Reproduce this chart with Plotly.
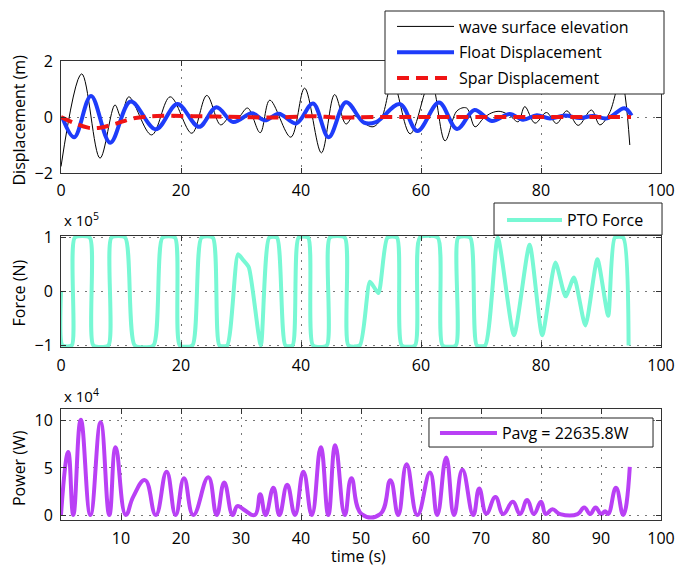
import plotly.graph_objects as go

# ---------------- data ----------------
# top panel: displacement (m) vs time (s)
wave_t = [0, 3.45, 6.5, 9.0, 10.0, 11.3, 15.1, 18.2, 21.8, 24.3, 26.6, 28.3, 29.4, 31.1, 33.2,
          34.8, 38.3, 40.6, 43.4, 45.6, 47.5, 48.8, 50.5, 52.0, 53.4, 55.3, 58.2, 61.6, 64.0,
          66.0, 67.6, 69.0, 70.4, 71.8, 73.2, 74.8, 76.2, 77.3, 79.0, 80.9, 82.6, 84.3, 86.2,
          88.4, 89.8, 91.4, 93.3, 94.8]
wave_y = [-1.77, 1.54, -1.47, 0.43, 0.0, 0.72, -0.64, 0.72, -0.58, 0.77, -0.28, 0.05, -0.05, 0.32, -0.56,
          0.6, -0.72, 1.03, -1.28, 0.8, -0.25, 0.05, -0.22, -0.35, -0.05, 1.25, -0.6, 1.3, -0.85,
          0.22, 0.32, -0.35, -0.05, 0.15, 0.2, 0.05, -0.17, 0.37, -0.22, 0.16, -0.23, 0.22, -0.3,
          0.25, -0.28, 0.14, 1.35, -1.0]

float_t = [0.2, 2.2, 5.0, 8.2, 11.6, 15.8, 19.4, 23.0, 25.9, 28.7, 31.8, 34.0, 36.3, 39.2, 42.0,
           44.6, 47.5, 50.5, 52.5, 56.5, 59.4, 63.0, 66.0, 68.9, 71.8, 74.8, 77.0, 79.3, 81.5,
           84.0, 86.5, 88.6, 91.0, 93.9, 95.1]
float_y = [0.0, -0.72, 0.75, -0.92, 0.55, -0.44, 0.46, -0.35, 0.35, -0.18, 0.13, -0.12, 0.12, -0.23, 0.48,
           -0.72, 0.53, -0.2, -0.18, 0.46, -0.5, 0.52, -0.43, 0.25, -0.14, 0.11, -0.1, 0.06, -0.05,
           0.05, -0.04, 0.04, -0.05, 0.31, 0.05]

spar_t = [0, 2.0, 4.5, 6.5, 9.0, 12.0, 16.0, 22.0, 30.0, 36.0, 42.0, 46.0, 52.0, 60.0, 70.0, 80.0, 90.0, 95.0]
spar_y = [0.0, -0.2, -0.38, -0.38, -0.25, -0.05, 0.04, 0.03, 0.0, -0.02, 0.03, -0.02, 0.0, 0.0, 0.0, 0.0, 0.0, 0.0]

# middle panel: PTO force (x 1e5 N)
force_t = [0, 0.25, 1.8, 2.3, 4.8, 5.4, 7.9, 8.4, 10.7, 12.3, 15.4, 16.9, 19.0, 19.8, 21.9, 23.4,
           25.3, 26.4, 27.7, 29.5, 30.4, 31.3, 33.3, 34.7, 36.0, 37.4, 38.6, 39.6, 41.2, 42.0,
           44.3, 44.8, 47.3, 47.9, 49.8, 51.5, 52.9, 54.4, 56.0, 56.8, 59.0, 59.8, 62.8, 63.6,
           65.8, 66.2, 68.2, 69.3, 70.7, 72.8, 75.5, 78.1, 80.2, 82.4, 84.1, 85.5, 87.4, 89.4,
           91.2, 92.3, 93.7, 94.6]
force_y = [0, -1, -1, 1, 1, -1, -1, 1, 1, -1, -1, 1, 1, -1, -1, 1,
           1, -1, -1, 0.69, 0.58, 0.45, -1, 1, 1, -1, -1, 1, 1, -1,
           -1, 1, 1, -1, -1, 0.18, -0.03, 1, 1, -1, -1, 1, 1, -1,
           -1, 1, 1, -1, -1, 1.0, -0.81, 0.87, -0.81, 0.54, -0.09, 0.26, -0.63, 0.6,
           -0.45, 1, 1, -1]

# bottom panel: power (x 1e4 W)
power_t = [0, 1.2, 2.05, 3.3, 4.9, 6.6, 8.05, 9.1, 10.8, 12.05, 14.0, 15.8, 17.6, 19.1, 20.5, 22.05,
           24.55, 25.95, 27.2, 28.6, 29.4, 30.4, 32.3, 33.2, 34.1, 35.4, 36.4, 37.7, 39.0, 40.4,
           41.8, 43.3, 44.55, 45.7, 47.3, 48.4, 50.1, 53.2, 54.9, 56.2, 57.6, 59.4, 61.5, 62.7,
           64.2, 65.5, 66.9, 68.7, 69.7, 70.9, 72.4, 73.7, 75.3, 76.5, 77.7, 78.8, 80.0, 80.8,
           81.9, 83.2, 86.1, 87.2, 88.2, 89.1, 90.0, 90.7, 91.2, 92.5, 93.7, 94.8]
power_y = [0, 6.7, 0, 10.1, 0, 9.85, 0, 7.2, 0, 1.95, 3.7, 0, 4.6, 0, 3.9, 0,
           4.0, 0, 3.45, 0, 0.95, 0.6, 0, 2.2, 0, 2.9, 0, 3.2, 0, 4.6,
           0, 7.2, 0, 7.4, 0, 3.9, 0.1, 0.1, 3.7, 0, 5.4, 0, 4.5, 0,
           6.1, 0, 4.8, 0, 2.8, 0.15, 1.9, 0.1, 1.4, 0.1, 1.6, 0.1, 1.4, 0.1,
           0.6, 0.1, 0.1, 0.8, 0.1, 0.8, 0.1, 0.4, 0.1, 2.9, 0, 5.1]

x_ticks_full = [0, 20, 40, 60, 80, 100]
x_ticks_power = [10, 20, 30, 40, 50, 60, 70, 80, 90, 100]
disp_ticks = [-2, 0, 2]
force_ticks = [-1, 0, 1]
power_ticks = [0, 5, 10]

# ---------------- styling ----------------
FONT = "Open Sans"
AX = "#333333"
axis_common = dict(showline=True, linecolor=AX, linewidth=1, mirror="ticks",
                   ticks="inside", ticklen=5, tickcolor=AX, tickwidth=1,
                   showgrid=True, gridcolor="#777777", griddash="2px,6px", gridwidth=1,
                   zeroline=False, tickfont=dict(family=FONT, size=16, color="black"))

fig = go.Figure()
fig.add_trace(go.Scatter(x=wave_t, y=wave_y, mode="lines", name="wave surface elevation",
                         line=dict(color="black", width=1, shape="spline", smoothing=1),
                         xaxis="x", yaxis="y", legend="legend", legendgroup="a"))
fig.add_trace(go.Scatter(x=float_t, y=float_y, mode="lines", name="Float Displacement",
                         line=dict(color="rgb(30,60,250)", width=4, shape="spline", smoothing=1),
                         xaxis="x", yaxis="y", legend="legend", legendgroup="b"))
fig.add_trace(go.Scatter(x=spar_t, y=spar_y, mode="lines", name="Spar Displacement",
                         line=dict(color="rgb(240,20,20)", width=4, dash="12px,7px", shape="spline", smoothing=1),
                         xaxis="x", yaxis="y", legend="legend", legendgroup="c"))
fig.add_trace(go.Scatter(x=force_t, y=force_y, mode="lines", name="PTO Force",
                         line=dict(color="rgb(120,248,212)", width=4, shape="spline", smoothing=0.6),
                         xaxis="x2", yaxis="y2", legend="legend2"))
fig.add_trace(go.Scatter(x=power_t, y=power_y, mode="lines", name="Pavg = 22635.8W",
                         line=dict(color="rgb(185,64,245)", width=4, shape="spline", smoothing=1.3),
                         xaxis="x3", yaxis="y3", legend="legend3"))

leg_common = dict(bgcolor="rgba(0,0,0,0)", borderwidth=0, xanchor="left",
                  font=dict(family=FONT, size=16, color="black"))

fig.update_layout(
    width=684, height=567,
    margin=dict(l=61, r=23, t=61, b=47, autoexpand=False),
    paper_bgcolor="white", plot_bgcolor="white",
    font=dict(family=FONT, size=16, color="black"),
    xaxis=dict(axis_common, domain=[0, 1], range=[0, 100], tickvals=x_ticks_full,
               anchor="y", ticklabelstandoff=3),
    yaxis=dict(axis_common, domain=[0.756, 1], range=[-2, 2], tickvals=disp_ticks,
               anchor="x", ticklabelstandoff=4),
    xaxis2=dict(axis_common, domain=[0, 1], range=[0, 100], tickvals=x_ticks_full,
                anchor="y2", ticklabelstandoff=4),
    yaxis2=dict(axis_common, domain=[0.3769, 0.6187], range=[-1.03, 1.03], tickvals=force_ticks,
                anchor="x2", ticklabelstandoff=4),
    xaxis3=dict(axis_common, domain=[0, 1], range=[0, 100], tickvals=x_ticks_power,
                anchor="y3", ticklabelstandoff=4),
    yaxis3=dict(axis_common, domain=[0, 0.2418], range=[-0.53, 11.25], tickvals=power_ticks,
                anchor="x3", ticklabelstandoff=4),
    legend=dict(leg_common, x=0.5517, y=1.0185, yanchor="middle", itemwidth=57, tracegroupgap=2),
    legend2=dict(leg_common, x=0.735, y=0.6536, yanchor="middle", itemwidth=55),
    legend3=dict(leg_common, x=0.6233, y=0.1895, yanchor="middle", itemwidth=57),
    showlegend=True,
)

# legend frames (white, black border) drawn above the data
for (x0, x1, y0, y1) in [(0.54, 1.005, 0.9281, 1.1089),
                         (0.7217, 1.0017, 0.6209, 0.6906),
                         (0.6133, 0.9867, 0.1590, 0.2222)]:
    fig.add_shape(type="rect", xref="paper", yref="paper", x0=x0, x1=x1, y0=y0, y1=y1,
                  fillcolor="white", line=dict(color="#222222", width=1), layer="above")

ann_font = dict(family=FONT, size=16, color="black")
for txt, yy in [("Displacement (m)", 0.8715), ("Force (N)", 0.4946), ("Power (W)", 0.1122)]:
    fig.add_annotation(text=txt, textangle=-90, xref="paper", yref="paper",
                       x=-0.0708, y=yy, xanchor="center", yanchor="middle",
                       showarrow=False, font=ann_font)
fig.add_annotation(text="time (s)", xref="paper", yref="paper", x=0.495, y=-0.0795,
                   xanchor="center", yanchor="middle", borderpad=0, showarrow=False, font=ann_font)
fig.add_annotation(text="x 10<sup>5</sup>", xref="paper", yref="paper", xanchor="left",
                   yanchor="middle", x=0.0017, y=0.6547, showarrow=False,
                   font=dict(family=FONT, size=15, color="black"))
fig.add_annotation(text="x 10<sup>4</sup>", xref="paper", yref="paper", xanchor="left",
                   yanchor="middle", x=0.0017, y=0.2702, showarrow=False,
                   font=dict(family=FONT, size=15, color="black"))

fig.write_html("out.html", config={"displayModeBar": False},
               post_script="document.body.style.margin='0';")
